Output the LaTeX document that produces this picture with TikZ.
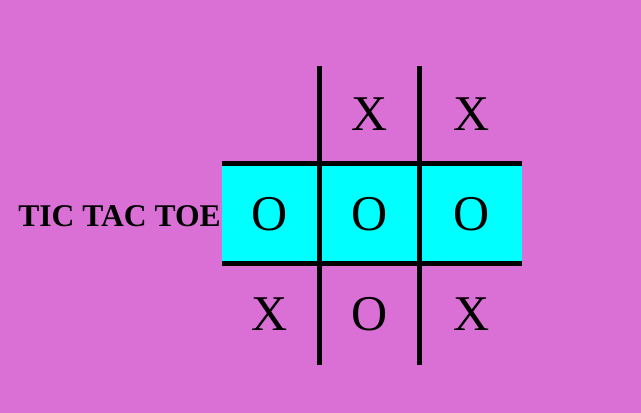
\documentclass[tikz,border=0pt]{standalone}
\usepackage{fontspec}
\setmainfont{Liberation Serif}
\definecolor{orchidbg}{RGB}{218,112,214}
\definecolor{rowcyan}{RGB}{0,255,255}
\tikzset{
  gridline/.style={line width=4.6pt, black},
  cellmark/.style={anchor=base, inner sep=0pt, font=\fontsize{50}{50}\selectfont},
  titletext/.style={anchor=base east, inner sep=0pt, font=\fontsize{31.6}{31.6}\selectfont\bfseries}
}
\begin{document}
\begin{tikzpicture}[x=1pt, y=-1pt]
  % Background
  \fill[orchidbg] (0,0) rectangle (641,413);
  % Grid corners
  \coordinate (tl) at (222,163.5);
  \coordinate (br) at (522,263.5);
  % Highlighted row
  \fill[rowcyan] (tl) rectangle (br);
  % Vertical lines
  \foreach \x/\n in {319.7/a, 419.7/b} {
    \coordinate (top\n) at (\x,66);
    \coordinate (bot\n) at (\x,365);
    \draw[gridline] (top\n) -- (bot\n);
  }
  % Horizontal lines
  \foreach \y/\n in {163.5/a, 263.5/b} {
    \coordinate (left\n) at (222,\y);
    \coordinate (right\n) at (522,\y);
    \draw[gridline] (left\n) -- (right\n);
  }
  % Marks
  \foreach \n/\x/\y/\s in {12/369.7/130/X, 13/471.5/130/X,
                          21/270/230.3/O, 22/369.7/230.3/O, 23/471.5/230.3/O,
                          31/270/330/X, 32/369.7/330.3/O, 33/471.5/330/X} {
    \node[cellmark] (m\n) at (\x,\y) {\s};
  }
  % Title
  \node[titletext] (title) at (221,226) {TIC TAC TOE};
\end{tikzpicture}
\end{document}
